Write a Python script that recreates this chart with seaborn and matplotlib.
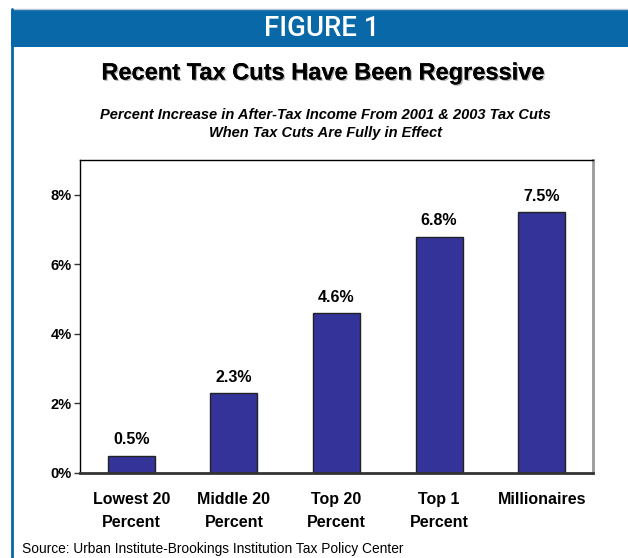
import matplotlib
matplotlib.use("Agg")
import matplotlib.pyplot as plt
import seaborn as sns
import pandas as pd
from matplotlib.patches import Rectangle
from matplotlib.lines import Line2D
import matplotlib.patheffects as pe

categories = ["Lowest 20\nPercent", "Middle 20\nPercent", "Top 20\nPercent", "Top 1\nPercent", "Millionaires"]
values = [0.5, 2.3, 4.6, 6.8, 7.5]
value_labels = ["0.5%", "2.3%", "4.6%", "6.8%", "7.5%"]
y_ticks = [0, 2, 4, 6, 8]
y_tick_labels = ["0%", "2%", "4%", "6%", "8%"]

header = "FIGURE 1"
title = "Recent Tax Cuts Have Been Regressive"
subtitle = "Percent Increase in After-Tax Income From 2001 & 2003 Tax Cuts\nWhen Tax Cuts Are Fully in Effect"
source = "Source: Urban Institute-Brookings Institution Tax Policy Center"

sns.set_theme(style="white")
plt.rcParams["font.family"] = ["Liberation Sans", "DejaVu Sans"]
plt.rcParams["text.color"] = "black"
plt.rcParams["xtick.color"] = "black"
plt.rcParams["ytick.color"] = "black"
plt.rcParams["axes.labelcolor"] = "black"

W, H = 628, 558
fig = plt.figure(figsize=(W / 100, H / 100), dpi=100)
fig.patch.set_facecolor("white")

def fx(px):
    return px / W

def fy(py):
    return 1 - py / H

# header band
fig.patches.append(Rectangle((fx(11), fy(47)), fx(628 - 11), (47 - 9) / H,
                             transform=fig.transFigure, facecolor="#0868a8", edgecolor="none", zorder=0))
fig.lines.append(Line2D([fx(11), 1], [fy(9), fy(9)], transform=fig.transFigure, color="#b8c4d4", lw=1))
fig.lines.append(Line2D([fx(12), fx(12)], [fy(9), 0], transform=fig.transFigure, color="#0868a8", lw=2))

fig.text(fx(322), fy(28), header, color="white", fontsize=20, fontweight="medium",
         family=["Roboto", "DejaVu Sans"], ha="center", va="center")
fig.text(fx(323), fy(73), title, color="black", fontsize=17, fontweight="bold",
         family=["Liberation Sans", "DejaVu Sans"], ha="center", va="center",
         path_effects=[pe.withSimplePatchShadow(offset=(1, -1), shadow_rgbFace="#888888", alpha=0.6), pe.Normal()])
fig.text(fx(325), fy(124), subtitle, color="black", fontsize=10.5, fontweight="bold", style="italic",
         family=["Liberation Sans", "DejaVu Sans"], ha="center", va="center", linespacing=1.35)
fig.text(fx(22), fy(549), source, color="black", fontsize=9.9, ha="left", va="center")

ax = fig.add_axes([fx(80), fy(473), fx(593 - 80), (473 - 160) / H])
df = pd.DataFrame({"cat": categories, "val": values})
sns.barplot(data=df, x="cat", y="val", color="#333399", saturation=1, width=0.46,
            edgecolor="#222222", linewidth=1, ax=ax)
ax.set_xlim(-0.5, len(categories) - 0.5)
ax.set_ylim(0, 9)
ax.set_yticks(y_ticks)
ax.set_yticklabels(y_tick_labels, fontsize=10.5, fontweight="bold", color="black")
ax.set_xlabel("")
ax.set_ylabel("")
ax.tick_params(axis="y", left=True, length=4, width=1, color="#333333", pad=2)
ax.tick_params(axis="x", bottom=False, pad=8)
for lab in ax.get_xticklabels():
    lab.set_fontsize(11.5)
    lab.set_fontweight("bold")
    lab.set_color("black")
    lab.set_linespacing(1.6)
    lab.set_va("top")

for s in ["top", "left"]:
    ax.spines[s].set_visible(True)
    ax.spines[s].set_color("black")
    ax.spines[s].set_linewidth(1)
ax.spines["right"].set_visible(True)
ax.spines["right"].set_color("#999999")
ax.spines["right"].set_linewidth(2)
ax.spines["bottom"].set_visible(True)
ax.spines["bottom"].set_color("#333333")
ax.spines["bottom"].set_linewidth(2)

for i, (v, t) in enumerate(zip(values, value_labels)):
    ax.annotate(t, (i, v), xytext=(0, 6), textcoords="offset points", ha="center", va="bottom",
                fontsize=11.5, fontweight="bold", color="black")

fig.savefig("out.png", dpi=100)
